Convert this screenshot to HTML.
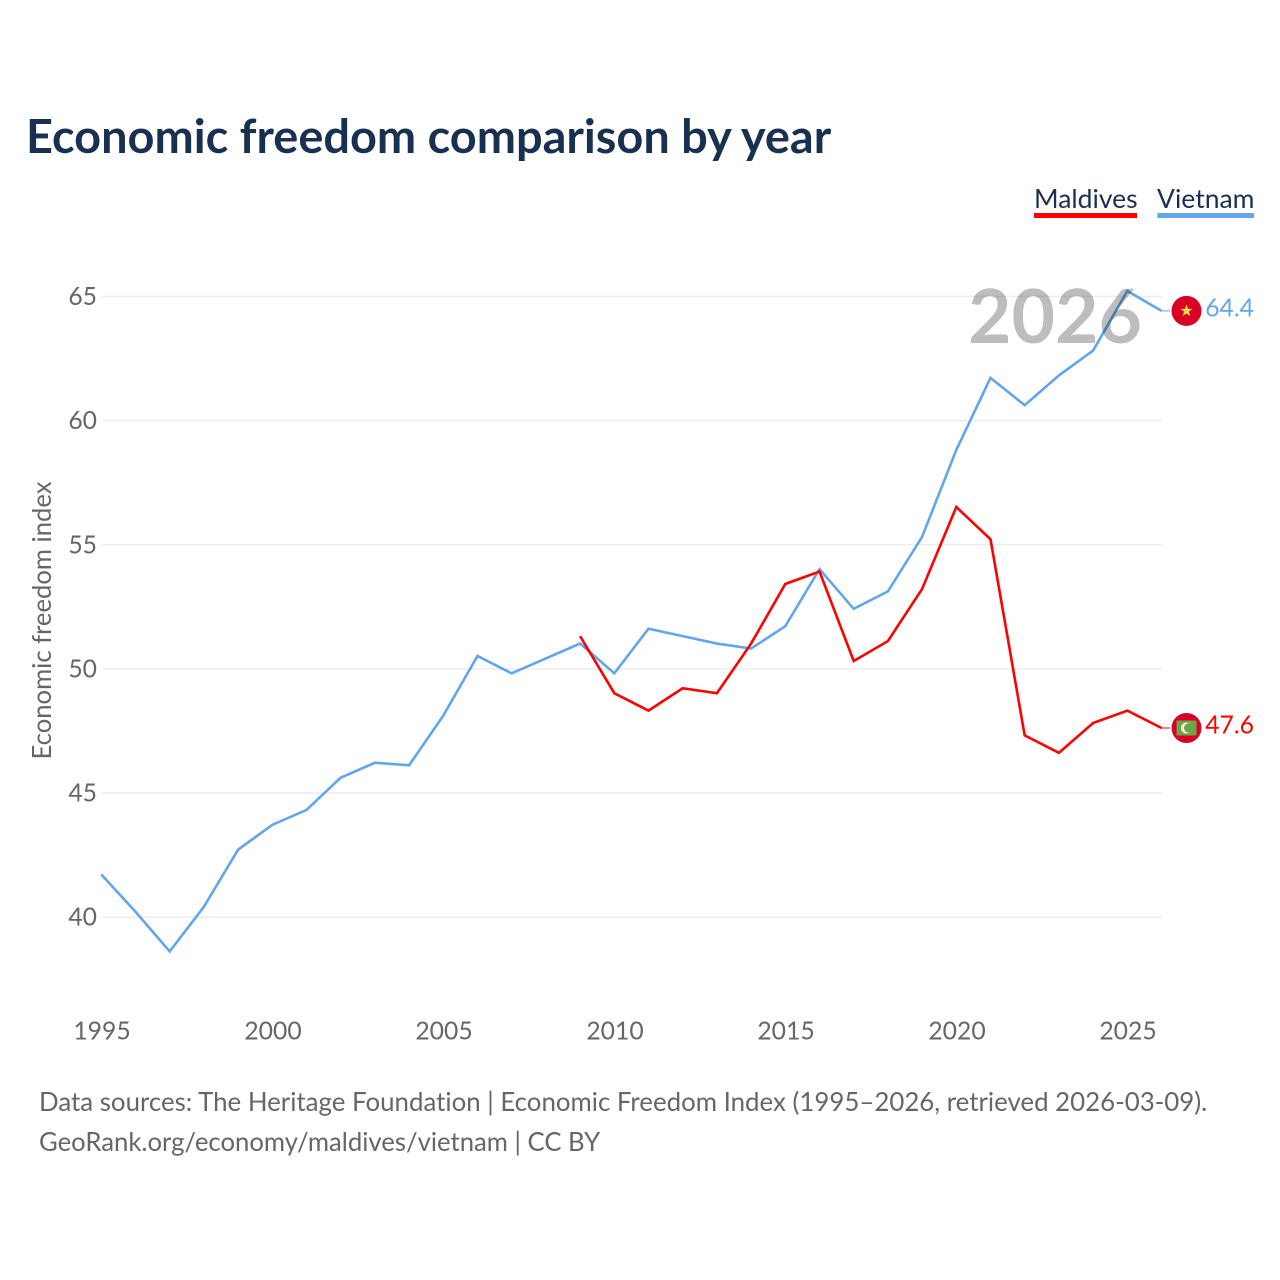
<!DOCTYPE html>
<html lang="en">
<head>
<meta charset="utf-8">
<title>Economic freedom comparison by year</title>
<style>
html,body{margin:0;padding:0;background:#fff;width:1280px;height:1280px;overflow:hidden}
svg{display:block}
text{font-family:"Lato","Carlito","Liberation Sans",sans-serif;font-variant-ligatures:none}
</style>
</head>
<body>
<svg id="chart" xmlns="http://www.w3.org/2000/svg" width="1280" height="1280" viewBox="0 0 1280 1280">
  <rect x="0" y="0" width="1280" height="1280" fill="#fff"/>
  <text x="26" y="153" font-size="46.900" font-weight="700" fill="#1a3050">Economic freedom comparison by year</text>
  <g>
    <text x="1034" y="208" font-size="26.500" fill="#1a3050">Maldives</text>
    <rect x="1034" y="213" width="103" height="5" fill="#ff0000"/>
  </g>
  <g>
    <text x="1157" y="208" font-size="26.500" fill="#1a3050">Vietnam</text>
    <rect x="1157.500" y="213" width="96.500" height="5" fill="#62a6ea"/>
  </g>
  <g id="grid"></g>
  <g id="yticks"></g>
  <g id="xticks"></g>
  <text transform="translate(51 620.500) rotate(-90)" text-anchor="middle" font-size="25.650" fill="#666">Economic freedom index</text>
  <g id="series"></g>
  <text id="watermark" x="1055" y="343" text-anchor="middle" font-size="75" font-weight="700" fill="#bdbdbd" style="mix-blend-mode:multiply">2026</text>
  <g id="ends"></g>
  <text x="39" y="1111" font-size="25.850" fill="#666">Data sources: The Heritage Foundation | Economic Freedom Index (1995–2026, retrieved 2026-03-09).</text>
  <text x="39" y="1151" font-size="25.700" fill="#666">GeoRank.org/economy/maldives/vietnam | CC BY</text>
</svg>
<script>
const vietnamYears = [1995,1996,1997,1998,1999,2000,2001,2002,2003,2004,2005,2006,2007,2008,2009,2010,2011,2012,2013,2014,2015,2016,2017,2018,2019,2020,2021,2022,2023,2024,2025,2026];
const vietnamValues = [41.7,40.2,38.6,40.4,42.7,43.7,44.3,45.6,46.2,46.1,48.1,50.5,49.8,50.4,51.0,49.8,51.6,51.3,51.0,50.8,51.7,54.0,52.4,53.1,55.3,58.8,61.7,60.6,61.8,62.8,65.2,64.4];
const maldivesYears = [2009,2010,2011,2012,2013,2014,2015,2016,2017,2018,2019,2020,2021,2022,2023,2024,2025,2026];
const maldivesValues = [51.3,49.0,48.3,49.2,49.0,51.0,53.4,53.9,50.3,51.1,53.2,56.5,55.2,47.3,46.6,47.8,48.3,47.6];
const yTickValues = [40,45,50,55,60,65];
const xTickValues = [1995,2000,2005,2010,2015,2020,2025];

const NS = 'http://www.w3.org/2000/svg';
function xScale(year){ return 102 + (year - 1995) * 34.2; }
function yScale(value){ return 917.2 - (value - 40) * 24.83; }
function make(tag, attrs, parent, text){
  const el = document.createElementNS(NS, tag);
  for (const k in attrs) el.setAttribute(k, attrs[k]);
  if (text !== undefined) el.textContent = text;
  parent.appendChild(el);
  return el;
}
const grid = document.getElementById('grid');
const yticks = document.getElementById('yticks');
const xticks = document.getElementById('xticks');
const series = document.getElementById('series');
const ends = document.getElementById('ends');

yTickValues.forEach(function(v){
  const line = make('line', {x1:102, x2:1162, y1:yScale(v), y2:yScale(v), stroke:'#eeeeee', 'stroke-width':1.6}, grid);
  
  
  const label = make('text', {x:97, y:yScale(v)+8.5, 'text-anchor':'end', 'font-size':24.7, fill:'#666'}, yticks, String(v));
  
  
});
xTickValues.forEach(function(y){
  const label = make('text', {x:xScale(y), y:1039.7, 'text-anchor':'middle', 'font-size':24.7, fill:'#666'}, xticks, String(y));
  
  
});
function drawLine(years, values, color){
  const pts = years.map(function(y, i){ return (xScale(y) - 0.7).toFixed(2) + ',' + (yScale(values[i]) - 0.5).toFixed(2); }).join(' ');
  return make('polyline', {points:pts, fill:'none', stroke:color, 'stroke-width':2.6, 'stroke-linejoin':'miter'}, series);
}
const vietnamLine = drawLine(vietnamYears, vietnamValues, '#62a6ea');


const maldivesLine = drawLine(maldivesYears, maldivesValues, '#ff0000');



function starPoints(cx, cy, R, r){
  const out = [];
  for (let i = 0; i < 10; i++){
    const a = -Math.PI/2 + i * Math.PI/5;
    const d = i % 2 ? r : R;
    out.push((cx + d*Math.cos(a)).toFixed(2) + ',' + (cy + d*Math.sin(a)).toFixed(2));
  }
  return out.join(' ');
}
// Vietnam end marker
const vEndValue = vietnamValues[vietnamValues.length-1];
const vY = yScale(vEndValue) - 0.5;
const vConn = make('line', {x1:1161, x2:1170, y1:vY, y2:vY, stroke:'#62a6ea', 'stroke-width':1}, ends);


const vFlag = make('g', {}, ends);


make('circle', {cx:1186.500, cy:vY, r:15, fill:'#d80027'}, vFlag);
make('polygon', {points:starPoints(1186.500, vY, 6.500, 2.600), fill:'#ffda44'}, vFlag);
const vLabel = make('text', {x:1254, y:vY+5.5, 'text-anchor':'end', 'font-size':24.7, fill:'#62a6ea'}, ends, vEndValue.toFixed(1));


// Maldives end marker
const mEndValue = maldivesValues[maldivesValues.length-1];
const mY = yScale(mEndValue) - 0.5;
const mConn = make('line', {x1:1161, x2:1170, y1:mY, y2:mY, stroke:'#ff0000', 'stroke-width':1}, ends);


const mFlag = make('g', {}, ends);


make('circle', {cx:1186.500, cy:mY, r:15, fill:'#d80027'}, mFlag);
make('rect', {x:1176.500, y:mY-7.500, width:20, height:15, fill:'#6da544'}, mFlag);
make('circle', {cx:1186.500, cy:mY, r:5.500, fill:'#f0f0f0'}, mFlag);
make('circle', {cx:1188.800, cy:mY, r:4.800, fill:'#6da544'}, mFlag);
const mLabel = make('text', {x:1254, y:mY+5.5, 'text-anchor':'end', 'font-size':24.7, fill:'#ff0000'}, ends, mEndValue.toFixed(1));


</script>
</body>
</html>
